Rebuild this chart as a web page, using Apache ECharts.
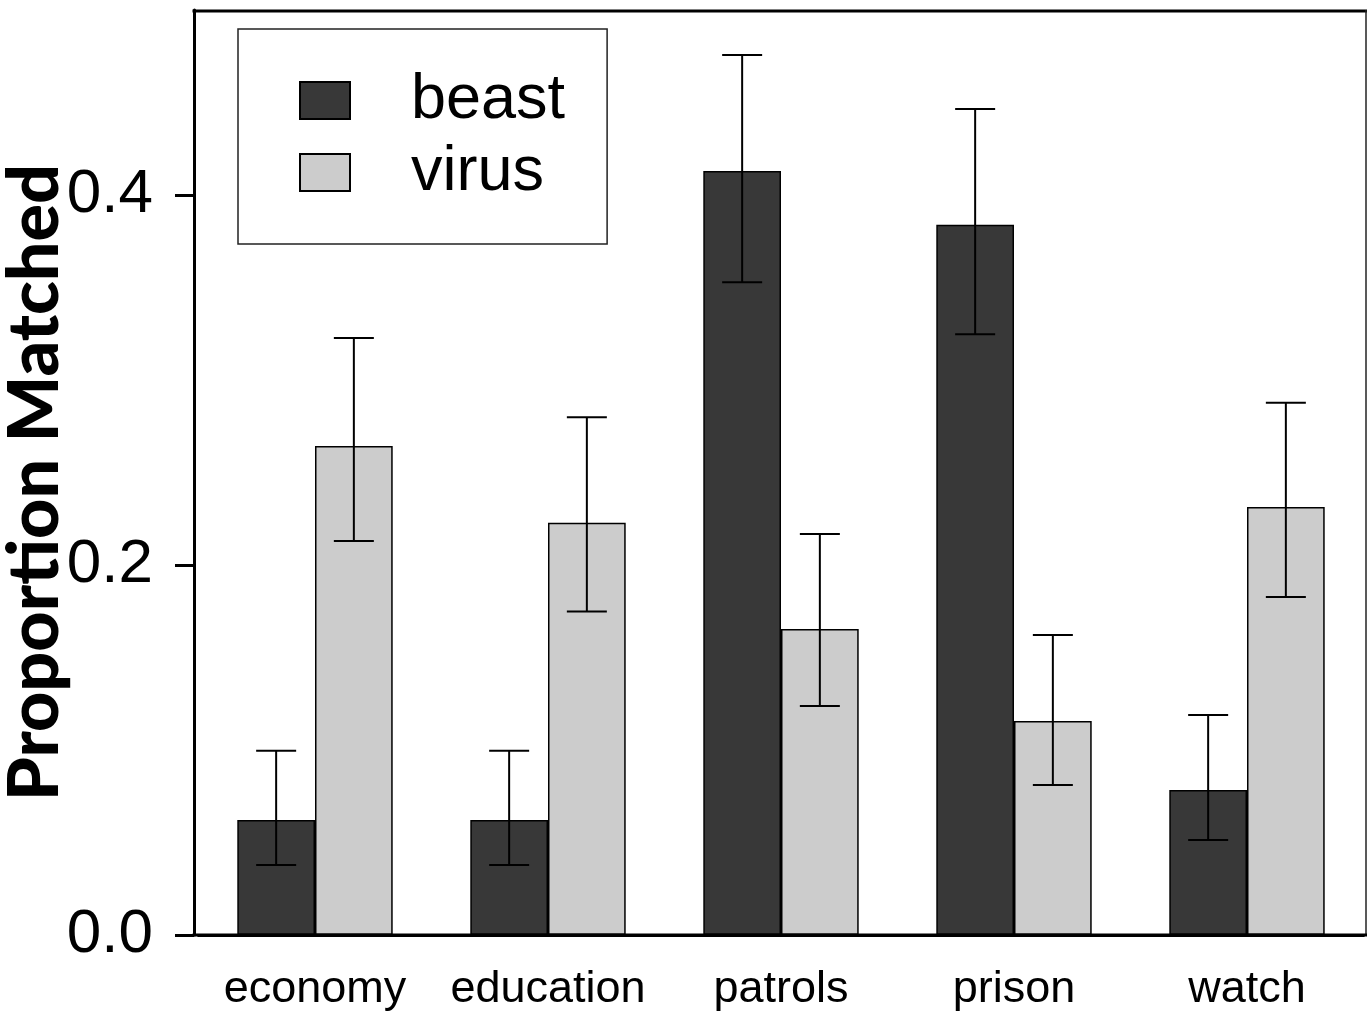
<!DOCTYPE html>
<html>
<head>
<meta charset="utf-8">
<script src="https://cdn.jsdelivr.net/npm/echarts@6/dist/echarts.min.js"></script>
<style>
  html, body { margin: 0; padding: 0; background: #fff; }
  #chart { width: 1367px; height: 1012px; }
</style>
</head>
<body>
<div id="chart"></div>
<script>
// data
const categories = ['economy', 'education', 'patrols', 'prison', 'watch']
const beast = [0.0622, 0.0622, 0.413, 0.3839, 0.0784]
const beastLow = [0.0378, 0.0378, 0.3528, 0.3247, 0.0514]
const beastHigh = [0.0996, 0.0996, 0.4757, 0.4465, 0.1189]
const virus = [0.2643, 0.2229, 0.1654, 0.1157, 0.2314]
const virusLow = [0.213, 0.1748, 0.1238, 0.0811, 0.1827]
const virusHigh = [0.3227, 0.2798, 0.2168, 0.1622, 0.2877]
const yTicks = [0, 0.2, 0.4]

const CAT_GAP = 0.333
const font = 'Liberation Sans, Arial, sans-serif'

const chart = echarts.init(document.getElementById('chart'))

// error bar drawn around the centre of one bar of the pair (side -1 left, +1 right)
const errorBars = (side) => (params, api) => {
  const idx = api.value(0)
  const cx = api.coord([idx, 0])[0]
  const band = api.size([1, 0])[0]
  const bw = band * (1 - CAT_GAP) / 2
  const x = cx + side * bw / 2
  const yLo = api.coord([idx, api.value(1)])[1]
  const yHi = api.coord([idx, api.value(2)])[1]
  const half = 20
  const style = { stroke: '#000', lineWidth: 2 }
  return {
    type: 'group',
    children: [
      { type: 'line', shape: { x1: x, y1: yLo, x2: x, y2: yHi }, style },
      { type: 'line', shape: { x1: x - half, y1: yHi, x2: x + half, y2: yHi }, style },
      { type: 'line', shape: { x1: x - half, y1: yLo, x2: x + half, y2: yLo }, style }
    ]
  }
}

const option = {
  animation: false,
  backgroundColor: '#fff',
  grid: { left: 198.5, right: 3.5, top: 10, bottom: 77, outerBoundsMode: 'none', containLabel: false },
  legend: {
    data: ['beast', 'virus'],
    orient: 'vertical',
    left: 238,
    top: 29,
    padding: [40, 42, 40, 61],
    borderColor: '#222',
    borderWidth: 1.5,
    itemWidth: 50,
    itemHeight: 37,
    itemGap: 9,
    icon: 'rect',
    textStyle: {
      fontFamily: font,
      fontSize: 63,
      color: '#000',
      padding: [0, 0, 0, 56]
    }
  },
  xAxis: {
    type: 'category',
    data: categories,
    axisLine: { lineStyle: { color: '#000', width: 3 } },
    axisTick: { alignWithLabel: true, length: 20, lineStyle: { color: '#000', width: 3 } },
    axisLabel: { interval: 0, fontFamily: font, fontSize: 45, color: '#000', margin: 32 }
  },
  yAxis: {
    type: 'value',
    min: 0,
    max: 0.5,
    interval: 0.2,
    offset: 4.5,
    name: 'Proportion Matched',
    nameLocation: 'middle',
    nameRotate: 90,
    nameGap: 124,
    nameMoveOverlap: false,
    nameTextStyle: {
      fontFamily: 'Lato',
      fontWeight: 900,
      fontSize: 70,
      color: '#000',
      padding: [0, 20, 0, 0]
    },
    axisLine: { show: true, lineStyle: { color: '#000', width: 3 } },
    axisTick: { show: true, length: 19, customValues: yTicks, lineStyle: { color: '#000', width: 3 } },
    axisLabel: {
      customValues: yTicks,
      fontFamily: font,
      fontSize: 62,
      color: '#000',
      margin: 41,
      formatter: (v) => v.toFixed(1)
    },
    splitLine: { show: false }
  },
  series: [
    {
      name: 'beast',
      type: 'bar',
      data: beast,
      barGap: '0%',
      barCategoryGap: (CAT_GAP * 100) + '%',
      itemStyle: { color: '#383838', borderColor: '#000', borderWidth: 1.5 }
    },
    {
      name: 'virus',
      type: 'bar',
      data: virus,
      itemStyle: { color: '#cccccc', borderColor: '#000', borderWidth: 1.5 }
    },
    {
      name: 'beast error',
      type: 'custom',
      renderItem: errorBars(-1),
      data: categories.map((c, i) => [i, beastLow[i], beastHigh[i]]),
      encode: { x: 0, y: [1, 2] },
      z: 5
    },
    {
      name: 'virus error',
      type: 'custom',
      renderItem: errorBars(1),
      data: categories.map((c, i) => [i, virusLow[i], virusHigh[i]]),
      encode: { x: 0, y: [1, 2] },
      z: 5
    }
  ],
  graphic: [
    { type: 'line', z: 10, shape: { x1: 192.5, y1: 11, x2: 1367, y2: 11 }, style: { stroke: '#000', lineWidth: 3 } },
    { type: 'line', z: 10, shape: { x1: 1366, y1: 10, x2: 1366, y2: 935 }, style: { stroke: '#222', lineWidth: 1.5 } },
    { type: 'line', z: 10, shape: { x1: 192.5, y1: 935, x2: 1367, y2: 935 }, style: { stroke: '#000', lineWidth: 3 } }
  ]
}

chart.setOption(option)
</script>
</body>
</html>
